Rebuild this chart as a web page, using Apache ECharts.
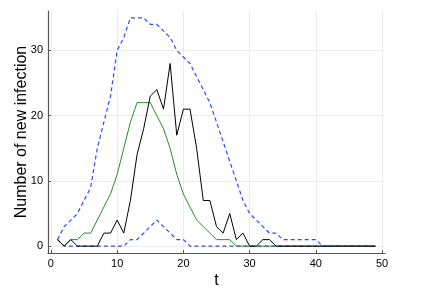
<!DOCTYPE html>
<html><head><meta charset="utf-8">
<script src="https://cdn.jsdelivr.net/npm/echarts@6/dist/echarts.min.js"></script>
<style>html,body{margin:0;padding:0;background:#fff}#c{width:421px;height:291px}</style>
</head><body><div id="c"></div>
<script>
var t = [];
for (var i = 1; i <= 49; i++) t.push(i);
var observed = [1,0,1,0,0,0,0,2,2,4,2,7,14,18,23,24,21,28,17,21,21,15,7,7,3,2,5,1,2,0,0,1,1,0,0,0,0,0,0,0,0,0,0,0,0,0,0,0,0];
var median   = [1,0,1,1,2,2,4,6,8,11,15,19,22,22,22,20,18,15,11,8,6,4,3,2,1,1,1,0,0,0,0,0,0,0,0,0,0,0,0,0,0,0,0,0,0,0,0,0,0];
var upper    = [1,3,4,5,7,9,15,19,23,30,32,35,35,35,34,34,33,32,30,29,28,26,24,22,19,16,13,10,7,5,4,3,2,2,1,1,1,1,1,1,0,0,0,0,0,0,0,0,0];
var lower    = [1,0,0,0,0,0,0,0,0,0,0,1,1,2,3,4,3,2,1,1,0,0,0,0,0,0,0,0,0,0,0,0,0,0,0,0,0,0,0,0,0,0,0,0,0,0,0,0,0];
var xTicks = [0,10,20,30,40,50];
var yTicks = [0,10,20,30];

function pairs(arr){ return arr.map(function(v,i){ return [t[i], v]; }); }
var chart = echarts.init(document.getElementById('c'), null, {renderer:'canvas'});
var font = '"Liberation Sans", Arial, sans-serif';
chart.setOption({
  animation:false,
  grid:{left:48, right:36, top:11, bottom:38, containLabel:false, outerBoundsMode:'none'},
  xAxis:{type:'value', min:-0.44, max:50.44,
    name:'t', nameLocation:'middle', nameGap:20, nameMoveOverlap:false,
    nameTextStyle:{fontSize:16, color:'#000', fontFamily:font},
    axisLine:{show:true, onZero:false, lineStyle:{color:'#555', width:1.2}},
    axisTick:{show:true, inside:true, length:3, lineStyle:{color:'#555'}, customValues:xTicks},
    axisLabel:{fontSize:11, color:'#000', fontFamily:font, margin:5, customValues:xTicks,
      formatter:function(v){ return String(v); }},
    splitLine:{show:true, lineStyle:{color:'#ececec', width:1}}},
  yAxis:{type:'value', min:-1.05, max:36.05,
    name:'Number of new infection', nameLocation:'middle', nameGap:18, nameMoveOverlap:false,
    nameTextStyle:{fontSize:16, color:'#000', fontFamily:font},
    axisLine:{show:true, onZero:false, lineStyle:{color:'#555', width:1.2}},
    axisTick:{show:true, inside:true, length:3, lineStyle:{color:'#555'}, customValues:yTicks},
    axisLabel:{fontSize:11, color:'#000', fontFamily:font, margin:5, customValues:yTicks,
      formatter:function(v){ return String(v); }},
    splitLine:{show:true, lineStyle:{color:'#ececec', width:1}}},
  series:[
    {type:'line', data:pairs(lower), symbol:'none', lineStyle:{color:'#2a4cff', width:1.2, type:[4,3]}},
    {type:'line', data:pairs(upper), symbol:'none', lineStyle:{color:'#2a4cff', width:1.2, type:[4,3]}},
    {type:'line', data:pairs(median), symbol:'none', lineStyle:{color:'#2a8a2a', width:1}},
    {type:'line', data:pairs(observed), symbol:'none', lineStyle:{color:'#000', width:1}}
  ]
});
</script></body></html>
